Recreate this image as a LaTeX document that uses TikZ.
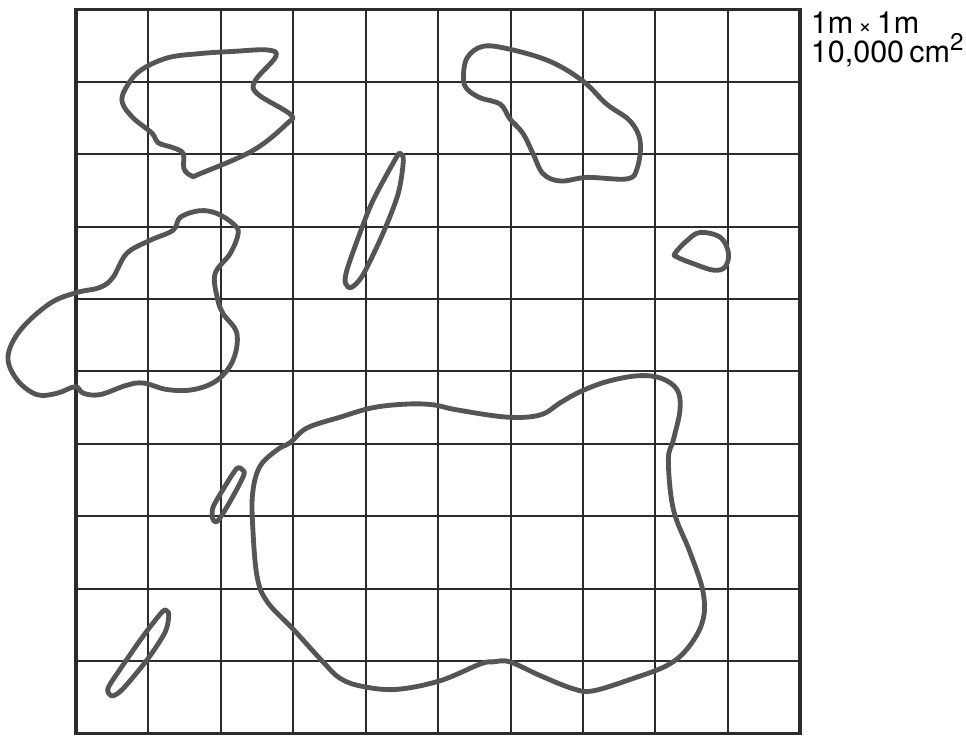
\documentclass[tikz,border=0pt]{standalone}
\usepackage{fontspec}
\setmainfont{TeX Gyre Heros}
\usepackage{tikz}
\usetikzlibrary{positioning}
\definecolor{qdink}{HTML}{2B2B2B}
\definecolor{qdblob}{HTML}{555555}
\tikzset{
  gridline/.style={draw=qdink, line width=0.8pt},
  frame/.style   ={draw=qdink, line width=1.4pt},
  patch/.style   ={draw=qdblob, line width=1.9pt, line join=round},
  arealabel/.style={font=\fontsize{12}{12}\selectfont, text=black, inner sep=0pt, anchor=base west},
}
\newcommand{\qdgrid}[1]{%
  \draw[gridline] (0,0) grid (#1,#1);
  \draw[frame] (0,0) rectangle (#1,#1);}

\begin{document}
\begin{tikzpicture}
  \useasboundingbox (-1.05,-0.06) rectangle (12.29,10.13);
  \qdgrid{10}
  % patches
  \draw[patch] plot[smooth cycle, tension=0.6] coordinates {
    (2.64,9.44) (2.76,9.35) (2.47,9.01) (2.51,8.83) (2.96,8.55) (2.91,8.42)
    (2.44,8.05) (1.71,7.73) (1.60,7.70) (1.49,7.80) (1.48,8.01) (1.34,8.09)
    (1.13,8.16) (1.05,8.29) (0.79,8.50) (0.64,8.71) (0.68,8.90) (0.88,9.15)
    (1.26,9.33) (1.71,9.39) (2.17,9.42)};
  \draw[patch] plot[smooth cycle, tension=0.6] coordinates {
    (1.71,7.22) (1.95,7.18) (2.17,7.04) (2.24,6.91) (2.13,6.63) (1.92,6.35)
    (1.95,6.02) (2.03,5.80) (2.22,5.53) (2.17,5.16) (1.95,4.88) (1.62,4.75)
    (1.26,4.75) (0.93,4.84) (0.70,4.81) (0.33,4.68) (0.10,4.70) (-0.01,4.79)
    (-0.26,4.70) (-0.54,4.68) (-0.81,4.88) (-0.94,5.20) (-0.77,5.57) (-0.36,5.94)
    (0.01,6.09) (0.33,6.16) (0.51,6.30) (0.70,6.63) (1.02,6.81) (1.34,6.95)
    (1.44,7.13)};
  \draw[patch] plot[smooth cycle, tension=0.6] coordinates {
    (5.35,9.05) (5.40,9.33) (5.62,9.49) (5.99,9.45) (6.55,9.28) (7.00,9.01)
    (7.33,8.69) (7.65,8.46) (7.79,8.18) (7.75,7.81) (7.61,7.66) (7.06,7.68)
    (6.69,7.63) (6.45,7.73) (6.31,8.01) (6.17,8.29) (5.99,8.49) (5.86,8.69)
    (5.58,8.78) (5.40,8.90)};
  \draw[patch] plot[smooth cycle, tension=0.5] coordinates {
    (4.48,8.01) (4.42,7.95) (4.10,7.36) (3.92,6.91) (3.74,6.40) (3.72,6.22)
    (3.80,6.16) (3.96,6.33) (4.24,6.91) (4.45,7.46) (4.52,7.91)};
  \draw[patch] plot[smooth cycle, tension=0.6] coordinates {
    (8.27,6.63) (8.44,6.81) (8.62,6.92) (8.90,6.85) (9.01,6.63) (8.96,6.44)
    (8.80,6.40) (8.52,6.49) (8.30,6.58)};
  \draw[patch] plot[smooth cycle, tension=0.6] coordinates {
    (2.96,4.02) (3.19,4.22) (3.65,4.37) (4.10,4.50) (4.57,4.55) (4.93,4.54)
    (5.26,4.47) (5.95,4.37) (6.41,4.40) (6.69,4.57) (6.96,4.72) (7.33,4.86)
    (7.75,4.94) (8.07,4.91) (8.30,4.75) (8.34,4.47) (8.25,4.06) (8.18,3.78)
    (8.25,3.09) (8.48,2.50) (8.66,1.95) (8.65,1.54) (8.44,1.17) (8.16,0.94)
    (7.69,0.76) (7.14,0.59) (6.86,0.62) (6.41,0.80) (5.99,0.99) (5.76,0.99)
    (5.58,0.96) (5.03,0.73) (4.43,0.61) (3.96,0.65) (3.65,0.76) (3.41,0.99)
    (3.00,1.44) (2.64,1.82) (2.50,2.17) (2.44,2.86) (2.44,3.33) (2.54,3.69)
    (2.78,3.92)};
  \draw[patch] plot[smooth cycle, tension=0.5] coordinates {
    (2.31,3.63) (2.22,3.66) (2.03,3.37) (1.89,3.12) (1.89,2.96) (1.95,2.93)
    (2.09,3.14) (2.24,3.41) (2.32,3.58)};
  \draw[patch] plot[smooth cycle, tension=0.5] coordinates {
    (1.26,1.69) (1.19,1.68) (0.93,1.35) (0.61,0.89) (0.44,0.62) (0.50,0.52)
    (0.65,0.62) (0.99,1.03) (1.23,1.40) (1.28,1.62)};
  % label
  \node[arealabel] (dims) at (10.14,9.67) {1m\,{\fontsize{9}{9}\selectfont ×}\,1m};
  \node[arealabel] (area) at (10.14,9.26) {10,000\,cm\raisebox{0.75ex}{\fontsize{9.5}{9.5}\selectfont 2}};
\end{tikzpicture}
\end{document}
